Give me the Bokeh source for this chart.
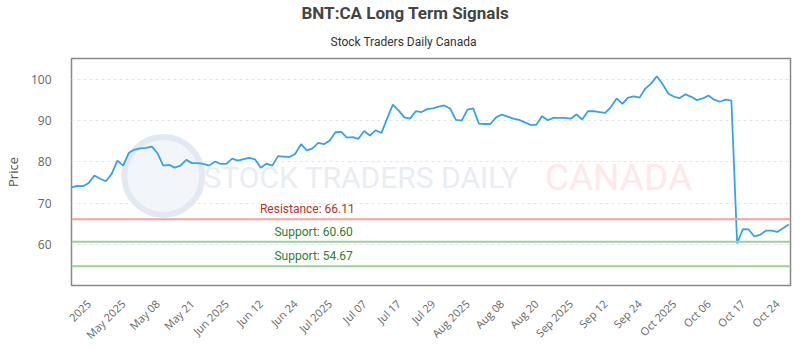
import math
from bokeh.plotting import figure
from bokeh.models import Range1d, FixedTicker, Title, Span, Label
from bokeh.embed import file_html
from bokeh.resources import INLINE
from bokeh.core.properties import value

# ---- data ----
prices = [
    73.8, 74.2, 74.1, 74.9, 76.7, 75.9, 75.3, 77.1, 80.3, 79.1,
    82.2, 83.0, 83.3, 83.4, 83.7, 82.1, 79.1, 79.3, 78.6, 79.1,
    80.5, 79.7, 79.7, 79.5, 79.1, 80.1, 79.5, 79.5, 80.8, 80.3,
    80.7, 81.0, 80.6, 78.6, 79.6, 79.1, 81.4, 81.3, 81.2, 82.0,
    84.3, 82.8, 83.3, 84.6, 84.3, 85.2, 87.2, 87.3, 85.9, 86.0,
    85.6, 87.5, 86.4, 87.7, 87.0, 90.5, 93.9, 92.5, 90.8, 90.5,
    92.3, 92.1, 92.8, 93.0, 93.4, 93.7, 92.9, 90.2, 90.0, 92.7,
    93.0, 89.3, 89.2, 89.2, 90.8, 91.5, 91.0, 90.5, 90.2, 89.6,
    89.0, 89.0, 91.1, 90.1, 90.7, 90.7, 90.7, 90.5, 91.5, 90.3,
    92.3, 92.3, 92.1, 91.9, 93.3, 95.4, 94.1, 95.6, 95.9, 95.6,
    97.8, 99.0, 100.8, 98.9, 96.6, 95.8, 95.5, 96.4, 95.8, 95.0,
    95.4, 96.1, 95.1, 94.6, 95.1, 94.9, 60.2, 63.7, 63.6, 61.9,
    62.3, 63.3, 63.3, 63.0, 63.9, 64.8,
]
tick_labels = ["2025", "May 2025", "May 08", "May 21", "Jun 2025", "Jun 12",
               "Jun 24", "Jul 2025", "Jul 07", "Jul 17", "Jul 29", "Aug 2025",
               "Aug 08", "Aug 20", "Sep 2025", "Sep 12", "Sep 24", "Oct 2025",
               "Oct 06", "Oct 17", "Oct 24"]
tick_index = [3, 9, 15, 21, 27, 33, 39, 45, 51, 57, 63, 69, 75, 81, 87, 93,
              99, 105, 111, 117, 123]
level_names = ["Resistance", "Support", "Support"]
level_values = [66.11, 60.60, 54.67]
y_ticks = [60, 70, 80, 90, 100]

x = list(range(len(prices)))

p = figure(width=800, height=350, output_backend="svg", toolbar_location=None,
           x_range=Range1d(0, 125.3), y_range=Range1d(50, 105.1),
           min_border_left=68, min_border_right=10, min_border_bottom=64,
           min_border_top=10, background_fill_color="white",
           border_fill_color="white")

# titles (left-aligned on the frame, shifted so they sit centred on the canvas)
p.add_layout(Title(text="Stock Traders Daily Canada", align="left",
                   text_font_size="12px", text_font_style="normal",
                   text_color="#333333", text_font="Roboto", offset=259,
                   standoff=20), "above")
p.add_layout(Title(text="BNT:CA Long Term Signals", align="left",
                   text_font_size="17px", text_font_style="bold",
                   text_color="#444444", text_font="Roboto", offset=230,
                   standoff=0), "above")

# watermark
p.scatter(x=[16], y=[76.6], size=78, marker="circle", fill_color="#f2f5fa",
          line_color="#e2e9f2", line_width=6)
p.text(x=[23], y=[76.3], text=["STOCK TRADERS DAILY"], text_align="left",
       text_baseline="middle", text_font_size="30px",
       text_font=value("Roboto"), text_color="#e9edf3")
p.text(x=[82.5], y=[76.3], text=["CANADA"], text_align="left",
       text_baseline="middle", text_font_size="37px",
       text_font=value("Roboto"), text_color="#fde9e9")

# price line
p.line(x, prices, line_color="#36a2eb", line_width=1.8)

# levels
level_colors = ["#f0a39c", "#9fcf9f", "#9fcf9f"]
text_colors = ["#b5322a", "#2e7d32", "#2e7d32"]
label_x = [41.1, 42.2, 42.2]
for name, val, lc, tc, lx in zip(level_names, level_values, level_colors,
                                 text_colors, label_x):
    p.add_layout(Span(location=val, dimension="width", line_color=lc,
                      line_width=2))
    p.add_layout(Label(x=lx, y=val, text=f"{name}: {val:.2f}",
                       text_align="center", text_baseline="bottom", y_offset=3,
                       text_font_size="12px", text_font="Roboto",
                       text_color=tc))

# axes
p.yaxis.ticker = FixedTicker(ticks=y_ticks)
p.yaxis.axis_label = "Price"
p.yaxis.axis_label_text_font_style = "normal"
p.yaxis.axis_label_text_font_size = "13px"
p.yaxis.axis_label_text_font = "Open Sans"
p.yaxis.axis_label_text_color = "#555555"
p.yaxis.axis_label_standoff = 6
p.yaxis.major_label_text_font = "Open Sans"
p.yaxis.major_label_text_font_size = "12px"
p.yaxis.major_label_text_color = "#666666"
p.yaxis.major_tick_out = 0
p.yaxis.major_tick_in = 0
p.yaxis.minor_tick_line_color = None
p.yaxis.axis_line_color = None
p.yaxis.major_label_standoff = 20

p.xaxis.ticker = FixedTicker(ticks=tick_index)
p.xaxis.major_label_overrides = {i: t for i, t in zip(tick_index, tick_labels)}
p.xaxis.major_label_orientation = math.pi / 4
p.xaxis.major_label_text_font = "Open Sans"
p.xaxis.major_label_text_font_size = "11px"
p.xaxis.major_label_text_color = "#666666"
p.xaxis.major_tick_out = 0
p.xaxis.major_tick_in = 0
p.xaxis.minor_tick_line_color = None
p.xaxis.axis_line_color = None
p.xaxis.major_label_standoff = 16

p.xgrid.grid_line_color = None
p.ygrid.grid_line_color = "#e6e6e6"
p.ygrid.grid_line_dash = "3 3"

p.outline_line_color = "#888888"
p.outline_line_width = 1.5

open("out.html", "w").write(file_html(p, INLINE))
